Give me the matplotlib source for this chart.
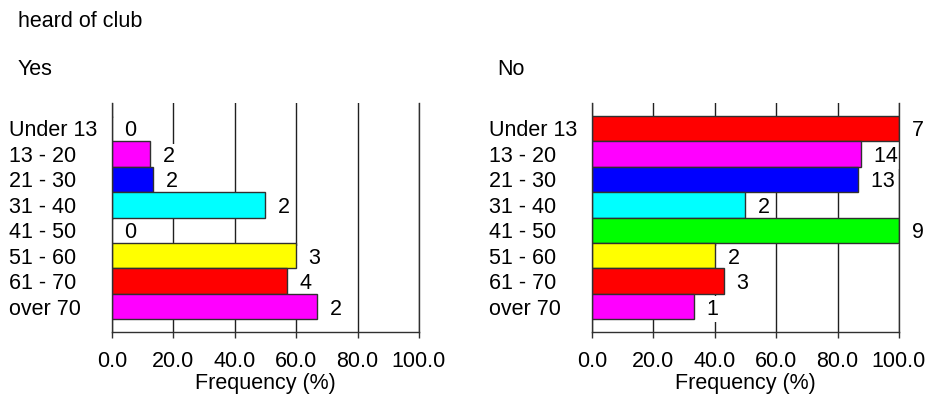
import matplotlib
matplotlib.use("Agg")
import matplotlib.pyplot as plt

plt.rcParams["font.family"] = ["Liberation Sans", "DejaVu Sans"]

# data
age_groups = ["Under 13", "13 - 20", "21 - 30", "31 - 40", "41 - 50", "51 - 60", "61 - 70", "over 70"]
bar_colors = ["#ff0000", "#ff00ff", "#0000ff", "#00ffff", "#00ff00", "#ffff00", "#ff0000", "#ff00ff"]

yes_pct = [0.0, 12.5, 13.3, 50.0, 0.0, 60.0, 57.1, 66.7]
yes_count = [0, 2, 2, 2, 0, 3, 4, 2]

no_pct = [100.0, 87.5, 86.7, 50.0, 100.0, 40.0, 42.9, 33.3]
no_count = [7, 14, 13, 2, 9, 2, 3, 1]

xticks = [0, 20, 40, 60, 80, 100]
xtick_labels = ["0.0", "20.0", "40.0", "60.0", "80.0", "100.0"]

FS = 15.5
W, H = 929, 397
fig = plt.figure(figsize=(W / 100, H / 100), dpi=100)


def panel(left_px, pct, counts):
    ax = fig.add_axes([left_px / W, 65 / H, 307 / W, 229 / H])
    ax.set_axisbelow(True)
    ax.xaxis.set_zorder(0.5)
    pos = list(range(len(age_groups)))
    ax.barh(pos, pct, height=1.0, color=bar_colors, edgecolor="#303030",
            linewidth=1.0, zorder=2)
    # value labels sit on a white box that hides the grid behind them,
    # drawn under the bars so the box never eats a bar edge
    for p, v, n in zip(pos, pct, counts):
        ax.annotate("  " + str(n), xy=(v, p), xytext=(0.7, 0), textcoords="offset points",
                    fontsize=FS, va="center_baseline", ha="left", zorder=1.8,
                    bbox=dict(boxstyle="square,pad=0.1", fc="white", ec="none"))
    ax.set_xlim(0, 100)
    ax.set_ylim(8.0, -1.0)
    ax.set_xticks(xticks)
    ax.set_xticklabels(xtick_labels, fontsize=FS)
    ax.set_yticks(pos)
    ax.set_yticklabels(age_groups, fontsize=FS)
    for lab in ax.get_yticklabels():
        lab.set_horizontalalignment("left")
    ax.tick_params(axis="y", length=0, pad=74.2)
    ax.tick_params(axis="x", length=4.3, width=1.0, color="#303030", pad=9.5)
    ax.grid(True, axis="x", color="#202020", linewidth=1.0)
    ax.spines["top"].set_visible(False)
    for s in ["left", "right", "bottom"]:
        ax.spines[s].set_color("#303030")
        ax.spines[s].set_linewidth(1.0)
        ax.spines[s].set_zorder(3)
    ax.set_xlabel("Frequency (%)", fontsize=FS)
    ax.xaxis.label.set_verticalalignment("baseline")
    ax.xaxis.set_label_coords(0.5, -57 / 229)
    return ax


panel(112, yes_pct, yes_count)
panel(592, no_pct, no_count)

fig.text(18 / W, 1 - 26.7 / H, "heard of club", fontsize=FS, va="baseline", ha="left")
fig.text(18 / W, 1 - 75 / H, "Yes", fontsize=FS, va="baseline", ha="left")
fig.text(497 / W, 1 - 75 / H, "No", fontsize=FS, va="baseline", ha="left")

fig.savefig("out.png", dpi=100)
